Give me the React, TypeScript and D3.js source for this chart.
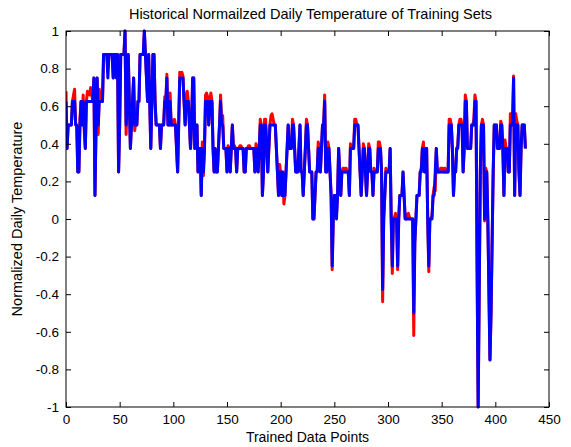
import React, { useEffect, useRef } from "react";
import * as d3 from "d3";

// predicted (blue) daily temperature, one value per trained data point
const predicted: number[] = [
  0.625, 0.375, 0.5, 0.5, 0.5, 0.5, 0.625, 0.625, 0.625, 0.5,
  0.5, 0.25, 0.25, 0.5, 0.625, 0.5, 0.625, 0.5, 0.375, 0.625,
  0.625, 0.625, 0.625, 0.625, 0.625, 0.625, 0.75, 0.125, 0.5, 0.75,
  0.5, 0.625, 0.625, 0.625, 0.625, 0.875, 0.875, 0.875, 0.875, 0.75,
  0.875, 0.875, 0.875, 0.875, 0.75, 0.875, 0.875, 0.75, 0.875, 0.25,
  0.5, 0.875, 0.875, 0.875, 0.875, 1.0, 0.5, 0.625, 0.875, 0.625,
  0.375, 0.5, 0.625, 0.75, 0.5, 0.5, 0.5, 0.625, 0.625, 0.875,
  0.875, 0.875, 0.875, 1.0, 0.875, 0.75, 0.625, 0.875, 0.625, 0.375,
  0.625, 0.875, 0.875, 0.625, 0.5, 0.5, 0.5, 0.5, 0.375, 0.5,
  0.5, 0.5, 0.625, 0.625, 0.75, 0.5, 0.5, 0.625, 0.5, 0.5,
  0.5, 0.5, 0.5, 0.375, 0.25, 0.5, 0.75, 0.75, 0.75, 0.75,
  0.625, 0.5, 0.625, 0.625, 0.625, 0.5, 0.375, 0.5, 0.75, 0.75,
  0.375, 0.5, 0.5, 0.25, 0.375, 0.375, 0.125, 0.375, 0.25, 0.375,
  0.625, 0.625, 0.625, 0.5, 0.625, 0.625, 0.625, 0.375, 0.25, 0.375,
  0.25, 0.25, 0.375, 0.5, 0.625, 0.5, 0.5, 0.375, 0.375, 0.375,
  0.25, 0.375, 0.375, 0.25, 0.375, 0.5, 0.375, 0.375, 0.375, 0.25,
  0.375, 0.375, 0.375, 0.375, 0.375, 0.375, 0.25, 0.25, 0.375, 0.375,
  0.375, 0.375, 0.375, 0.375, 0.375, 0.375, 0.25, 0.375, 0.375, 0.25,
  0.375, 0.5, 0.5, 0.125, 0.25, 0.5, 0.5, 0.375, 0.25, 0.375,
  0.5, 0.5, 0.5, 0.5, 0.5, 0.5, 0.375, 0.25, 0.125, 0.25,
  0.25, 0.125, 0.25, 0.125, 0.125, 0.25, 0.375, 0.5, 0.375, 0.375,
  0.375, 0.5, 0.5, 0.375, 0.25, 0.25, 0.25, 0.375, 0.5, 0.25,
  0.25, 0.125, 0.25, 0.375, 0.5, 0.5, 0.375, 0.25, 0.25, 0.25,
  0.0, 0.0, 0.125, 0.25, 0.25, 0.375, 0.375, 0.25, 0.375, 0.5,
  0.5, 0.625, 0.25, 0.25, 0.375, 0.375, 0.25, 0.125, -0.25, 0.0,
  0.125, 0.125, 0.0, 0.125, 0.375, 0.25, 0.125, 0.25, 0.25, 0.25,
  0.25, 0.25, 0.25, 0.25, 0.125, 0.375, 0.375, 0.375, 0.375, 0.5,
  0.5, 0.5, 0.5, 0.375, 0.25, 0.125, 0.25, 0.375, 0.375, 0.25,
  0.125, 0.25, 0.375, 0.375, 0.25, 0.25, 0.125, 0.25, 0.25, 0.25,
  0.25, 0.375, 0.375, 0.375, 0.25, -0.375, 0.0, 0.125, 0.25, 0.25,
  0.25, 0.25, 0.375, 0.0, -0.25, 0.0, 0.0, 0.0, 0.0, -0.25,
  0.0, 0.125, 0.125, 0.125, 0.25, 0.125, 0.0, 0.0, 0.0, 0.0,
  0.0, 0.0, 0.0, 0.0, -0.5, -0.125, 0.0, 0.125, 0.125, 0.125,
  0.25, 0.25, 0.375, 0.375, 0.25, 0.375, 0.375, 0.0, -0.25, 0.0,
  0.0, 0.0, 0.125, 0.125, 0.25, 0.375, 0.25, 0.25, 0.25, 0.25,
  0.25, 0.25, 0.25, 0.25, 0.25, 0.25, 0.25, 0.5, 0.5, 0.5,
  0.375, 0.125, 0.25, 0.25, 0.375, 0.375, 0.5, 0.5, 0.5, 0.5,
  0.25, 0.375, 0.625, 0.625, 0.375, 0.375, 0.375, 0.375, 0.5, 0.5,
  0.5, 0.625, 0.625, -0.25, -1.0, -0.375, 0.25, 0.5, 0.5, 0.5,
  0.0, 0.25, 0.25, 0.0, -0.375, -0.75, -0.5, -0.125, 0.25, 0.5,
  0.5, 0.5, 0.375, 0.375, 0.375, 0.5, 0.5, 0.375, 0.125, 0.375,
  0.375, 0.375, 0.25, 0.25, 0.5, 0.5, 0.5, 0.75, 0.125, 0.5,
  0.5, 0.5, 0.25, 0.125, 0.375, 0.5, 0.5, 0.5, 0.375,
];

// actual (red) values where they differ from the predicted ones: [index, value]
const actualDiffs: [number, number][] = [
  [0, 0.68], [7, 0.66], [8, 0.69], [13, 0.53], [15, 0.53], [16, 0.66], [17, 0.47],
  [20, 0.68], [21, 0.67], [22, 0.66], [23, 0.7], [24, 0.66], [30, 0.45], [31, 0.69],
  [39, 0.8], [56, 0.45], [64, 0.47], [65, 0.52], [92, 0.65], [94, 0.77], [97, 0.67],
  [100, 0.52], [101, 0.53], [105, 0.52], [106, 0.78], [107, 0.77], [108, 0.78],
  [109, 0.76], [112, 0.66], [113, 0.68], [121, 0.47], [127, 0.41], [128, 0.23],
  [130, 0.66], [131, 0.67], [132, 0.65], [135, 0.67], [144, 0.66], [145, 0.51],
  [146, 0.55], [151, 0.39], [157, 0.39], [162, 0.39], [163, 0.39], [170, 0.39],
  [171, 0.39], [177, 0.4], [181, 0.53], [185, 0.53], [186, 0.53], [191, 0.55],
  [192, 0.56], [193, 0.53], [199, 0.29], [203, 0.08], [211, 0.53], [224, 0.53],
  [235, 0.41], [241, 0.66], [244, 0.41], [248, -0.27], [252, 0.02], [258, 0.27],
  [259, 0.27], [261, 0.27], [265, 0.4], [269, 0.53], [270, 0.53], [277, 0.4],
  [282, 0.4], [287, 0.27], [291, 0.41], [292, 0.41], [295, -0.44], [298, 0.27],
  [304, -0.29], [306, 0.01], [307, 0.03], [309, -0.27], [316, 0.0], [318, 0.02],
  [319, 0.03], [320, 0.01], [324, -0.62], [331, 0.27], [333, 0.41], [338, -0.28],
  [341, 0.02], [343, 0.17], [344, 0.15], [349, 0.27], [350, 0.27], [351, 0.27],
  [353, 0.27], [357, 0.53], [358, 0.53], [365, 0.39], [367, 0.53], [368, 0.53],
  [372, 0.66], [380, 0.53], [381, 0.66], [388, 0.53], [390, -0.01], [391, 0.27],
  [405, 0.52], [409, 0.42], [414, 0.56], [417, 0.76], [419, 0.56], [420, 0.52],
];

const xTicks = [0, 50, 100, 150, 200, 250, 300, 350, 400, 450];
const yTicks = [-1, -0.8, -0.6, -0.4, -0.2, 0, 0.2, 0.4, 0.6, 0.8, 1];
const yTickLabels = ["-1", "-0.8", "-0.6", "-0.4", "-0.2", "0", "0.2", "0.4", "0.6", "0.8", "1"];

const App = () => {
  const svgRef = useRef<SVGSVGElement>(null);

  useEffect(() => {
    const svg = d3.select(svgRef.current);
    svg.selectAll("*").remove();

    const w = 571;
    const h = 447;
    const m = { left: 66, top: 31, right: 549, bottom: 407 };
    const font = "'Liberation Sans', Arial, Helvetica, sans-serif";

    svg.attr("width", w).attr("height", h).style("background", "#fff");

    const x = d3.scaleLinear().domain([0, 450]).range([m.left, m.right]);
    const y = d3.scaleLinear().domain([-1, 1]).range([m.bottom, m.top]);

    const diffMap = new Map(actualDiffs);
    const actual = predicted.map((v, i) => (diffMap.has(i) ? diffMap.get(i)! : v));

    const line = d3
      .line<number>()
      .x((_, i) => x(i))
      .y((d) => y(d));

    const plot = svg.append("g");
    plot.append("defs").append("clipPath").attr("id", "clip")
      .append("rect")
      .attr("x", m.left).attr("y", m.top - 2)
      .attr("width", m.right - m.left).attr("height", m.bottom - m.top + 4);

    const lines = plot.append("g").attr("clip-path", "url(#clip)");
    lines.append("path")
      .attr("d", line(actual))
      .attr("fill", "none")
      .attr("stroke", "#ff0000")
      .attr("stroke-width", 3)
      .attr("stroke-linejoin", "round");
    lines.append("path")
      .attr("d", line(predicted))
      .attr("fill", "none")
      .attr("stroke", "#0000ff")
      .attr("stroke-width", 3)
      .attr("stroke-linejoin", "round");

    // axes with inward ticks, box on all four sides
    const style = (g: d3.Selection<SVGGElement, unknown, null, undefined>) => {
      g.select(".domain").remove();
      g.selectAll("line").attr("stroke", "#000");
      g.selectAll("text").attr("fill", "#000").style("font-family", font).style("font-size", "13.5px");
    };

    svg.append("g")
      .attr("transform", `translate(0,${m.bottom})`)
      .call(d3.axisBottom(x).tickValues(xTicks).tickSize(-5).tickPadding(7))
      .call(style);
    svg.append("g")
      .attr("transform", `translate(0,${m.top})`)
      .call(d3.axisTop(x).tickValues(xTicks).tickSize(-5).tickFormat(() => ""))
      .call(style);
    svg.append("g")
      .attr("transform", `translate(${m.left},0)`)
      .call(d3.axisLeft(y).tickValues(yTicks).tickSize(-5).tickPadding(7)
        .tickFormat((d, i) => yTickLabels[i]))
      .call(style);
    svg.append("g")
      .attr("transform", `translate(${m.right},0)`)
      .call(d3.axisRight(y).tickValues(yTicks).tickSize(-5).tickFormat(() => ""))
      .call(style);

    svg.append("rect")
      .attr("x", m.left).attr("y", m.top)
      .attr("width", m.right - m.left).attr("height", m.bottom - m.top)
      .attr("fill", "none").attr("stroke", "#000").attr("stroke-width", 1);

    svg.append("text")
      .attr("x", (m.left + m.right) / 2 + 3).attr("y", 19)
      .attr("text-anchor", "middle")
      .style("font-family", font).style("font-size", "14.5px")
      .text("Historical Normailzed Daily Temperature of Training Sets");

    svg.append("text")
      .attr("x", (m.left + m.right) / 2).attr("y", 442)
      .attr("text-anchor", "middle")
      .style("font-family", font).style("font-size", "14px")
      .text("Trained Data Points");

    svg.append("text")
      .attr("transform", `translate(22,${(m.top + m.bottom) / 2}) rotate(-90)`)
      .attr("text-anchor", "middle")
      .style("font-family", font).style("font-size", "14.5px")
      .text("Normalized Daily Temperature");
  }, []);

  return (
    <svg ref={svgRef} style={{ position: "absolute", left: 0, top: 0, display: "block" }}></svg>
  );
};

export default App;
